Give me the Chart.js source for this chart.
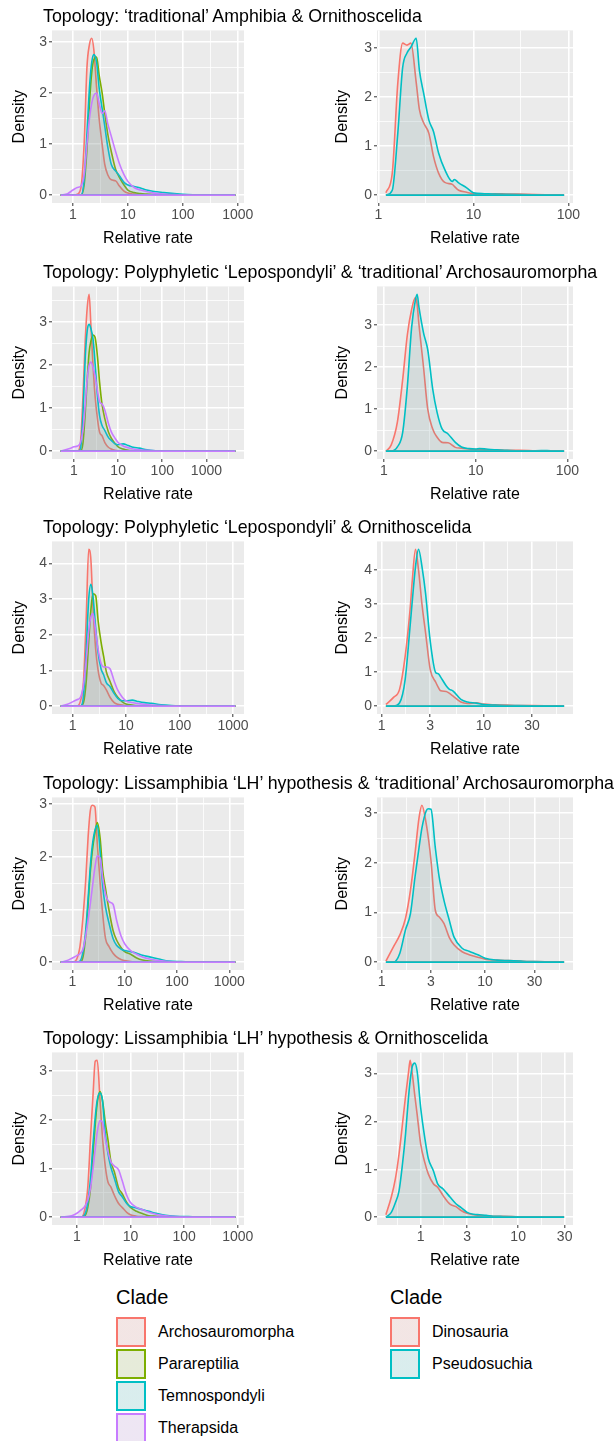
<!DOCTYPE html>
<html>
<head>
<meta charset="utf-8">
<script src="https://cdn.jsdelivr.net/npm/chart.js@4.4.1/dist/chart.umd.min.js"></script>
<style>
  body { margin: 0; width: 614px; height: 1441px; background: #fff; position: relative; overflow: hidden;
         font-family: 'Liberation Sans', Arial, sans-serif; }
  canvas { position: absolute; }
  .title { position: absolute; left: 43px; font-size: 17.8px; line-height: 20px; color: #000; white-space: nowrap; }
  .legend { position: absolute; top: 1285px; }
  .legend .head { font-size: 20px; line-height: 24px; color: #000; margin-bottom: 7px; }
  .legend .item { display: flex; align-items: center; height: 32px; font-size: 16px; color: #000; }
  .legend .key { width: 30px; height: 30px; box-sizing: border-box; border: 2px solid; margin-right: 12px; }
</style>
</head>
<body>
<script>
const cladesLeft = ['Archosauromorpha', 'Parareptilia', 'Temnospondyli', 'Therapsida'];
const cladesRight = ['Dinosauria', 'Pseudosuchia'];
const colorsLeft = ['#F8766D', '#7CAE00', '#00BFC4', '#C77CFF'];
const colorsRight = ['#F8766D', '#00BFC4'];

const titles = [
  'Topology: \u2018traditional\u2019 Amphibia & Ornithoscelida',
  'Topology: Polyphyletic \u2018Lepospondyli\u2019 & \u2018traditional\u2019 Archosauromorpha',
  'Topology: Polyphyletic \u2018Lepospondyli\u2019 & Ornithoscelida',
  'Topology: Lissamphibia \u2018LH\u2019 hypothesis & \u2018traditional\u2019 Archosauromorpha',
  'Topology: Lissamphibia \u2018LH\u2019 hypothesis & Ornithoscelida'
];

const ticksLeft = [1, 10, 100, 1000];
const ticksRightWide = [1, 10, 100];
const ticksRightNarrow = [1, 3, 10, 30];

// --- row 1 ---
const p1LeftX = [0.6,0.8,1.0,1.2,1.4,1.6,1.8,2.0,2.2,2.4,2.7,3.0,3.4,3.8,4.3,5,6,7,8.5,10,13,17,22,30,45,70,120,250,900];
const p1LeftArcho = [0,0,0,0.02,0.15,1.0,2.5,2.95,3.07,2.85,2.1,1.5,1.0,0.6,0.4,0.3,0.28,0.18,0.08,0.04,0.02,0.01,0,0,0,0,0,0,0];
const p1LeftPara  = [0,0,0,0,0,0.2,0.9,1.8,2.4,2.65,2.7,2.35,2.0,1.6,1.2,0.85,0.5,0.35,0.2,0.1,0.05,0.03,0.02,0.01,0,0,0,0,0];
const p1LeftTemno = [0,0,0,0,0,0.3,1.2,2.1,2.6,2.75,2.6,2.1,1.7,1.35,0.95,0.6,0.47,0.38,0.25,0.2,0.17,0.14,0.1,0.07,0.05,0.03,0.01,0.003,0];
const p1LeftThera = [0,0.03,0.1,0.15,0.18,0.4,1.0,1.5,1.8,1.95,2.0,1.8,1.6,1.65,1.4,1.15,0.85,0.62,0.4,0.27,0.15,0.1,0.07,0.04,0.02,0.01,0,0,0];

const p1RightX = [1.2,1.4,1.6,1.8,2.0,2.2,2.5,2.7,3.0,3.4,3.8,4.3,5,6,6.3,7,8.5,10,13,17,22,30,45,70,90];
const p1RightDino   = [0.05,0.45,2.28,3.1,3.06,3.1,2.3,1.75,1.47,1.26,0.79,0.45,0.26,0.22,0.18,0.1,0.06,0.03,0.02,0.03,0.025,0.02,0.01,0.005,0];
const p1RightPseudo = [0,0.1,1.26,2.6,2.9,3.02,3.2,2.55,2.07,1.53,1.3,0.86,0.52,0.28,0.32,0.25,0.15,0.05,0.03,0.02,0.015,0.01,0.005,0,0];

// --- row 2 ---
const p2LeftX = [0.5,0.8,1.0,1.2,1.4,1.6,1.8,2.0,2.2,2.4,2.7,3.0,3.4,3.8,4.3,5,6,7,8.5,10,13,17,22,30,45,70,120,250,900,4500];
const p2LeftArcho = [0,0,0,0,0.2,1.3,2.6,3.36,3.65,2.98,1.98,1.28,0.75,0.44,0.36,0.2,0.09,0.05,0.02,0.01,0,0,0,0,0,0,0,0,0,0];
const p2LeftPara  = [0,0,0,0,0,0.2,0.9,1.7,2.3,2.55,2.7,2.65,2.2,1.6,1.1,0.75,0.45,0.3,0.18,0.1,0.05,0.02,0.01,0,0,0,0,0,0,0];
const p2LeftTemno = [0,0,0,0,0.05,0.9,2.2,2.82,2.95,2.86,2.6,2.05,1.28,0.82,0.6,0.48,0.32,0.25,0.17,0.15,0.17,0.13,0.09,0.07,0.03,0.01,0,0,0,0];
const p2LeftThera = [0,0.06,0.1,0.12,0.2,0.5,1.1,1.7,2.0,2.07,1.95,1.75,1.4,1.15,1.1,0.95,0.65,0.45,0.3,0.2,0.12,0.08,0.05,0.03,0.02,0.01,0,0,0,0];

const p2RightX = [1.05,1.2,1.4,1.6,1.8,2.0,2.2,2.3,2.4,2.7,3.0,3.4,3.8,4.3,5,6,7,8.5,10,11,13,17,22,30,45,60,70,92];
const p2RightDino   = [0,0.15,0.69,1.71,2.78,3.37,3.66,3.5,3.05,2.0,1.0,0.53,0.33,0.21,0.2,0.09,0.07,0.05,0.04,0.04,0.03,0.03,0.02,0.02,0.01,0.008,0.005,0];
const p2RightPseudo = [0,0,0.1,0.45,1.55,2.94,3.6,3.74,3.45,2.82,2.42,1.48,0.92,0.53,0.41,0.21,0.1,0.06,0.05,0.06,0.05,0.03,0.02,0.01,0.01,0.015,0.005,0];

// --- row 3 ---
const p3LeftX = [0.6,0.8,1.0,1.2,1.4,1.6,1.8,2.0,2.2,2.4,2.7,3.0,3.4,3.8,4.3,5,6,7,8.5,10,13,17,22,30,45,70,120,250,1100];
const p3LeftArcho = [0,0,0,0,0.14,0.7,2.5,4.4,4.1,2.8,1.6,1.0,0.65,0.58,0.45,0.25,0.1,0.05,0.03,0.01,0,0,0,0,0,0,0,0,0];
const p3LeftPara  = [0,0,0,0,0,0.1,0.7,1.8,2.7,3.15,3.1,2.4,1.8,1.4,0.95,0.7,0.4,0.25,0.12,0.06,0.03,0.01,0,0,0,0,0,0,0];
const p3LeftTemno = [0,0,0,0,0,0.3,1.6,3.0,3.42,3.1,2.2,1.5,1.05,0.88,0.65,0.55,0.35,0.22,0.15,0.15,0.17,0.13,0.1,0.08,0.04,0.02,0.01,0,0];
const p3LeftThera = [0,0.05,0.12,0.18,0.25,0.6,1.3,2.1,2.5,2.6,2.1,1.6,1.2,1.1,1.1,1.05,0.7,0.45,0.25,0.15,0.1,0.07,0.05,0.03,0.015,0.01,0,0,0];

const p3RightX = [1.1,1.3,1.5,1.7,1.9,2.0,2.15,2.3,2.5,2.7,3.0,3.4,3.6,3.8,4.3,4.6,5,6,7,8.5,10,13,17,22,30,45,62];
const p3RightDino   = [0.05,0.25,0.5,1.46,2.83,3.7,4.6,4.0,2.93,2.15,1.07,0.7,0.55,0.45,0.43,0.38,0.3,0.12,0.08,0.1,0.06,0.04,0.03,0.02,0.02,0.01,0];
const p3RightPseudo = [0,0,0.1,0.78,2.34,3.1,4.1,4.6,4.05,3.3,1.9,0.98,0.95,0.85,0.6,0.5,0.45,0.2,0.12,0.09,0.05,0.03,0.02,0.015,0.01,0.005,0];

// --- row 4 ---
const p4LeftX = [0.6,0.8,1.0,1.2,1.4,1.6,1.8,2.0,2.2,2.4,2.7,3.0,3.4,3.8,4.3,5,6,7,8.5,10,13,17,22,30,45,70,120,250,1300];
const p4LeftArcho = [0,0,0,0.05,0.3,0.86,1.55,2.37,2.87,2.98,2.95,2.25,1.5,0.92,0.45,0.3,0.17,0.1,0.05,0.03,0.01,0,0,0,0,0,0,0,0];
const p4LeftPara  = [0,0,0,0,0,0.1,0.5,1.1,1.7,2.1,2.45,2.65,2.35,1.75,1.4,1.0,0.6,0.42,0.28,0.2,0.15,0.08,0.04,0.02,0.01,0,0,0,0];
const p4LeftTemno = [0,0,0,0,0.02,0.2,0.6,1.2,1.8,2.2,2.5,2.6,2.1,1.45,1.05,0.75,0.45,0.32,0.25,0.22,0.2,0.17,0.13,0.1,0.06,0.02,0.01,0,0];
const p4LeftThera = [0,0.03,0.08,0.12,0.16,0.25,0.5,0.8,1.1,1.4,1.8,2.02,1.98,1.6,1.3,1.15,1.1,0.8,0.5,0.35,0.22,0.15,0.1,0.06,0.03,0.01,0,0,0];

const p4RightX = [1.1,1.3,1.5,1.7,1.9,2.1,2.3,2.45,2.7,2.85,3.0,3.3,3.6,4.0,4.5,5,6,7,8.5,10,13,17,22,30,45,58];
const p4RightDino   = [0.02,0.31,0.55,0.88,1.45,2.18,2.91,3.16,2.78,2.45,2.05,1.05,0.91,0.78,0.5,0.35,0.21,0.15,0.1,0.06,0.04,0.03,0.02,0.01,0.005,0];
const p4RightPseudo = [0,0,0.18,0.65,0.98,1.71,2.31,2.7,3.05,3.09,3.08,2.31,1.71,1.25,0.85,0.51,0.28,0.22,0.15,0.08,0.04,0.03,0.02,0.01,0.005,0];

// --- row 5 ---
const p5LeftX = [0.5,0.8,1.0,1.2,1.4,1.6,1.8,2.0,2.2,2.4,2.7,3.0,3.4,3.8,4.3,5,6,7,8.5,10,13,17,22,30,45,70,120,250,900];
const p5LeftArcho = [0,0,0,0,0.15,0.62,1.65,2.5,3.2,3.22,2.41,1.65,1.03,0.72,0.62,0.45,0.28,0.2,0.1,0.05,0.02,0.01,0,0,0,0,0,0,0];
const p5LeftPara  = [0,0,0,0,0.02,0.2,0.6,1.3,1.9,2.35,2.58,2.4,1.93,1.59,1.15,0.93,0.6,0.48,0.3,0.2,0.12,0.07,0.03,0.02,0.01,0,0,0,0];
const p5LeftTemno = [0,0,0,0,0.05,0.3,0.8,1.5,2.05,2.4,2.55,2.4,1.7,1.31,1.03,0.8,0.52,0.42,0.28,0.22,0.19,0.15,0.12,0.08,0.04,0.02,0.01,0,0];
const p5LeftThera = [0,0.03,0.08,0.15,0.22,0.35,0.6,1.0,1.4,1.75,1.98,1.95,1.6,1.35,1.14,1.05,0.97,0.75,0.45,0.3,0.2,0.15,0.1,0.06,0.03,0.01,0,0,0];

const p5RightX = [0.44,0.5,0.55,0.6,0.65,0.7,0.75,0.78,0.82,0.87,0.92,1.0,1.1,1.2,1.35,1.5,1.7,2.0,2.3,2.6,3.0,3.5,4.0,4.7,5.5,7,10,15,20,29.6];
const p5RightDino   = [0.05,0.42,0.8,1.32,1.94,2.53,3.02,3.28,3.0,2.55,2.15,1.53,1.15,0.9,0.7,0.62,0.45,0.27,0.22,0.14,0.08,0.05,0.04,0.03,0.02,0.02,0.01,0.005,0.003,0];
const p5RightPseudo = [0,0.1,0.3,0.55,1.1,1.74,2.5,2.85,3.15,3.22,3.05,2.29,1.67,1.22,0.97,0.69,0.59,0.42,0.28,0.2,0.1,0.06,0.05,0.04,0.02,0.015,0.01,0.005,0.003,0];

const panels = [
  { row: 0, col: 0, x: p1LeftX, series: [p1LeftArcho, p1LeftPara, p1LeftTemno, p1LeftThera], ticks: ticksLeft },
  { row: 0, col: 1, x: p1RightX, series: [p1RightDino, p1RightPseudo], ticks: ticksRightWide },
  { row: 1, col: 0, x: p2LeftX, series: [p2LeftArcho, p2LeftPara, p2LeftTemno, p2LeftThera], ticks: ticksLeft },
  { row: 1, col: 1, x: p2RightX, series: [p2RightDino, p2RightPseudo], ticks: ticksRightWide },
  { row: 2, col: 0, x: p3LeftX, series: [p3LeftArcho, p3LeftPara, p3LeftTemno, p3LeftThera], ticks: ticksLeft },
  { row: 2, col: 1, x: p3RightX, series: [p3RightDino, p3RightPseudo], ticks: ticksRightNarrow },
  { row: 3, col: 0, x: p4LeftX, series: [p4LeftArcho, p4LeftPara, p4LeftTemno, p4LeftThera], ticks: ticksLeft },
  { row: 3, col: 1, x: p4RightX, series: [p4RightDino, p4RightPseudo], ticks: ticksRightNarrow },
  { row: 4, col: 0, x: p5LeftX, series: [p5LeftArcho, p5LeftPara, p5LeftTemno, p5LeftThera], ticks: ticksLeft },
  { row: 4, col: 1, x: p5RightX, series: [p5RightDino, p5RightPseudo], ticks: ticksRightNarrow }
];

Chart.defaults.font.family = "'Liberation Sans', Arial, sans-serif";

function hexA(hex, a) {
  const n = parseInt(hex.slice(1), 16);
  return `rgba(${n >> 16}, ${(n >> 8) & 255}, ${n & 255}, ${a})`;
}

// grey panel background like ggplot
const panelBg = {
  id: 'panelBg',
  beforeDraw(chart) {
    const { ctx, chartArea: a } = chart;
    ctx.save();
    ctx.fillStyle = '#EBEBEB';
    ctx.fillRect(a.left, a.top, a.right - a.left, a.bottom - a.top);
    ctx.restore();
  }
};

const gridOpts = {
  color: '#FFFFFF',
  lineWidth: ctx => (ctx.tick && ctx.tick.isMinor) ? 0.8 : 1.6,
  tickColor: ctx => (ctx.tick && ctx.tick.isMinor) ? 'rgba(0,0,0,0)' : '#333333',
  tickWidth: 1,
  tickLength: 3
};

function makeChart(p) {
  const panelTop = 30 + 255.5 * p.row;
  const canvas = document.createElement('canvas');
  canvas.width = 307;
  canvas.height = 228;
  canvas.style.left = (p.col === 0 ? 0 : 307) + 'px';
  canvas.style.top = Math.round(panelTop - 10) + 'px';
  document.body.appendChild(canvas);

  if (p.col === 0) {
    const t = document.createElement('div');
    t.className = 'title';
    t.textContent = titles[p.row];
    t.style.top = Math.round(panelTop - 24) + 'px';
    document.body.appendChild(t);
  }

  const clades = p.col === 0 ? cladesLeft : cladesRight;
  const colors = p.col === 0 ? colorsLeft : colorsRight;
  const n = p.series.length;
  const datasets = [];
  p.series.forEach((ys, i) => {
    datasets.push({
      label: clades[i],
      data: ys.map((y, j) => ({ x: p.x[j], y })),
      borderColor: colors[i],
      backgroundColor: hexA(colors[i], 0.1),
      borderWidth: 1.6,
      fill: 'origin',
      pointRadius: 0,
      cubicInterpolationMode: 'monotone',
      order: 10 + n - i
    });
  });
  // outline along the baseline, as geom_density draws it
  p.series.forEach((ys, i) => {
    datasets.push({
      label: clades[i] + ' base',
      data: [{ x: p.x[0], y: 0 }, { x: p.x[p.x.length - 1], y: 0 }],
      borderColor: colors[i],
      borderWidth: 1.6,
      fill: false,
      pointRadius: 0,
      order: n - i
    });
  });

  const ymax = Math.max(...p.series.map(s => Math.max(...s)));
  const lo = Math.log10(p.x[0]);
  const hi = Math.log10(p.x[p.x.length - 1]);
  const xMin = Math.pow(10, lo - 0.05 * (hi - lo));
  const xMax = Math.pow(10, hi + 0.05 * (hi - lo));

  // major + minor breaks on the log axis
  const logs = p.ticks.map(v => Math.log10(v));
  const minorLogs = [];
  minorLogs.push(logs[0] - (logs[1] - logs[0]) / 2);
  for (let i = 0; i < logs.length - 1; i++) minorLogs.push((logs[i] + logs[i + 1]) / 2);
  const L = logs.length;
  minorLogs.push(logs[L - 1] + (logs[L - 1] - logs[L - 2]) / 2);

  const xTicks = p.ticks.map(v => ({ value: v }))
    .concat(minorLogs.map(l => ({ value: Math.pow(10, l), isMinor: true })))
    .filter(tk => tk.value >= xMin && tk.value <= xMax)
    .sort((a, b) => a.value - b.value);

  const yTicks = [];
  for (let v = 0; v <= ymax * 1.05; v += 0.5) {
    yTicks.push(Number.isInteger(v) ? { value: v } : { value: v, isMinor: true });
  }

  new Chart(canvas, {
    type: 'line',
    data: { datasets },
    options: {
      responsive: false,
      animation: false,
      layout: { padding: { top: 10, bottom: 0, left: 0, right: p.col === 0 ? 63 : 41 } },
      plugins: { legend: { display: false }, tooltip: { enabled: false } },
      scales: {
        x: {
          type: 'logarithmic',
          min: xMin,
          max: xMax,
          bounds: 'data',
          afterBuildTicks: s => { s.ticks = xTicks.map(tk => ({ ...tk })); },
          afterFit: s => { s.height = 45; },
          grid: gridOpts,
          border: { display: false },
          ticks: {
            autoSkip: false,
            maxRotation: 0,
            minRotation: 0,
            padding: 1,
            color: '#4D4D4D',
            font: { size: 14 },
            callback: (v, i, ticks) => ticks[i].isMinor ? '' : String(v)
          },
          title: {
            display: true,
            text: 'Relative rate',
            color: '#000',
            font: { size: 16 },
            padding: { top: 0, bottom: 0 }
          }
        },
        y: {
          type: 'linear',
          min: -0.05 * ymax,
          max: 1.05 * ymax,
          bounds: 'data',
          afterBuildTicks: s => { s.ticks = yTicks.map(tk => ({ ...tk })); },
          afterFit: s => { s.width = p.col === 0 ? 52 : 70; },
          grid: gridOpts,
          border: { display: false },
          ticks: {
            padding: 2,
            color: '#4D4D4D',
            font: { size: 14 },
            callback: (v, i, ticks) => ticks[i].isMinor ? '' : String(v)
          },
          title: {
            display: true,
            text: 'Density',
            color: '#000',
            font: { size: 16 },
            padding: { top: p.col === 0 ? 10 : 26, bottom: 0 }
          }
        }
      }
    },
    plugins: [panelBg]
  });
}

panels.forEach(makeChart);

function makeLegend(left, clades, colors) {
  const box = document.createElement('div');
  box.className = 'legend';
  box.style.left = left + 'px';
  const head = document.createElement('div');
  head.className = 'head';
  head.textContent = 'Clade';
  box.appendChild(head);
  clades.forEach((c, i) => {
    const item = document.createElement('div');
    item.className = 'item';
    const key = document.createElement('div');
    key.className = 'key';
    key.style.borderColor = colors[i];
    const f = hexA(colors[i], 0.1);
    key.style.background = `linear-gradient(${f}, ${f}), #F2F2F2`;
    const lab = document.createElement('span');
    lab.textContent = c;
    item.appendChild(key);
    item.appendChild(lab);
    box.appendChild(item);
  });
  document.body.appendChild(box);
}

makeLegend(116, cladesLeft, colorsLeft);
makeLegend(390, cladesRight, colorsRight);
</script>
</body>
</html>
